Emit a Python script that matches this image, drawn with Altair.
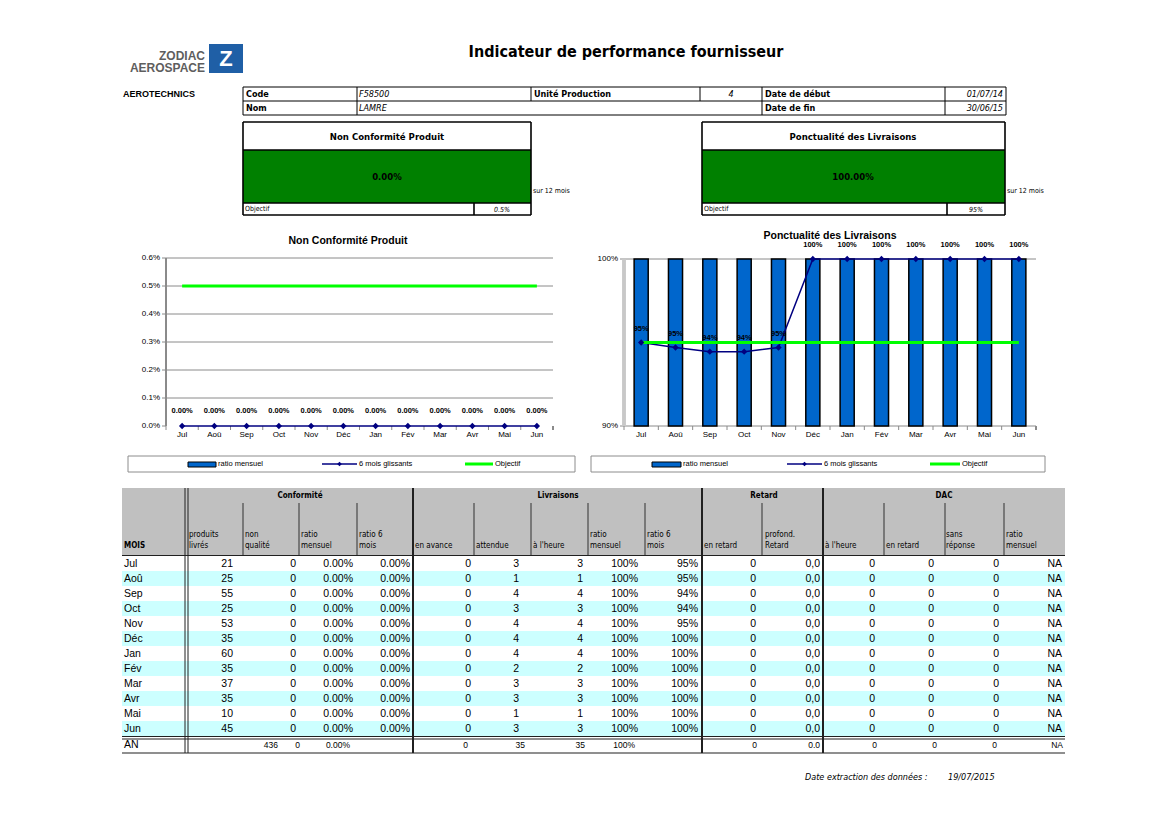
import altair as alt
import pandas as pd

# ---------------- data ----------------
months = ["Jul", "Aoû", "Sep", "Oct", "Nov", "Déc", "Jan", "Fév", "Mar", "Avr", "Mai", "Jun"]
produits_livres = [21, 25, 55, 25, 53, 35, 60, 35, 37, 35, 10, 45]
non_qualite = [0, 0, 0, 0, 0, 0, 0, 0, 0, 0, 0, 0]
nc_ratio_mensuel = [0.0, 0.0, 0.0, 0.0, 0.0, 0.0, 0.0, 0.0, 0.0, 0.0, 0.0, 0.0]
nc_ratio_6mois = [0.0, 0.0, 0.0, 0.0, 0.0, 0.0, 0.0, 0.0, 0.0, 0.0, 0.0, 0.0]
en_avance = [0, 0, 0, 0, 0, 0, 0, 0, 0, 0, 0, 0]
attendue = [3, 1, 4, 3, 4, 4, 4, 2, 3, 3, 1, 3]
a_l_heure = [3, 1, 4, 3, 4, 4, 4, 2, 3, 3, 1, 3]
liv_ratio_mensuel = [1.0, 1.0, 1.0, 1.0, 1.0, 1.0, 1.0, 1.0, 1.0, 1.0, 1.0, 1.0]
liv_ratio_6mois = [0.950, 0.947, 0.9445, 0.9445, 0.947, 1.0, 1.0, 1.0, 1.0, 1.0, 1.0, 1.0]
en_retard = [0, 0, 0, 0, 0, 0, 0, 0, 0, 0, 0, 0]
profond_retard = [0.0, 0.0, 0.0, 0.0, 0.0, 0.0, 0.0, 0.0, 0.0, 0.0, 0.0, 0.0]
dac_a_l_heure = [0, 0, 0, 0, 0, 0, 0, 0, 0, 0, 0, 0]
dac_en_retard = [0, 0, 0, 0, 0, 0, 0, 0, 0, 0, 0, 0]
dac_sans_reponse = [0, 0, 0, 0, 0, 0, 0, 0, 0, 0, 0, 0]
dac_ratio = ["NA", "NA", "NA", "NA", "NA", "NA", "NA", "NA", "NA", "NA", "NA", "NA"]
objectif_nc = 0.005
objectif_liv = 0.95
nc_ticks = [0.0, 0.001, 0.002, 0.003, 0.004, 0.005, 0.006]
liv_ticks = [0.90, 1.00]

titre = "Indicateur de performance fournisseur"
fournisseur = "AEROTECHNICS"
code_fournisseur = "F58500"
nom = "LAMRE"
unite_production = "4"
date_debut = "01/07/14"
date_fin = "30/06/15"
date_extraction = "19/07/2015"

# ---------------- layout helpers ----------------
W, H = 1153, 810
ARIAL = "Liberation Sans, Arial, sans-serif"
CAL = "Liberation Sans Narrow, DejaVu Sans Condensed, Liberation Sans, sans-serif"


def PX(v):
    return v - 8


XS = alt.Scale(domain=[8, 8 + W], range=[0, W], nice=False, zero=False)
YS = alt.Scale(domain=[8, 8 + H], range=[0, H], nice=False, zero=False)


def L_rules(segs, color="black", width=1.0):
    df = pd.DataFrame(segs, columns=["x", "y", "x2", "y2"])
    return alt.Chart(df).mark_rule(color=color, strokeWidth=width).encode(
        x=alt.X("x:Q", scale=XS, axis=None), y=alt.Y("y:Q", scale=YS, axis=None),
        x2="x2:Q", y2="y2:Q")


def L_rect(items, **mk):
    df = pd.DataFrame(items, columns=["x", "y", "x2", "y2"])
    return alt.Chart(df).mark_rect(**mk).encode(
        x=alt.X("x:Q", scale=XS, axis=None), y=alt.Y("y:Q", scale=YS, axis=None),
        x2="x2:Q", y2="y2:Q")


def L_text(items, **mk):
    df = pd.DataFrame(items, columns=["x", "y", "t"])
    base = dict(baseline="middle", font=ARIAL, fontSize=9, color="black", align="left")
    base.update(mk)
    return alt.Chart(df).mark_text(**base).encode(
        x=alt.X("x:Q", scale=XS, axis=None), y=alt.Y("y:Q", scale=YS, axis=None),
        text="t:N")


bg = []
layout = []

# ----- header -----
layout.append(L_text([(626, 52, titre)], align="center", font=CAL, fontSize=16, fontWeight="bold"))
layout.append(L_text([(205, 55.5, "ZODIAC"), (205, 68, "AEROSPACE")], align="right",
                     font=ARIAL, fontSize=12, fontWeight="bold", color="#5E5E5E"))
layout.append(L_rect([(209, 44, 243, 73)], color="#1F5FA6"))
layout.append(L_text([(226, 59, "Z")], align="center", font=ARIAL, fontSize=22,
                     fontWeight="bold", color="white"))
layout.append(L_text([(123, 94, fournisseur)], fontWeight="bold", fontSize=9))

# info table
layout.append(L_rules([
    (243, 87, 1006, 87), (243, 101, 1006, 101), (243, 115, 1006, 115),
    (243, 87, 243, 115), (1006, 87, 1006, 115),
    (357, 87, 357, 115), (531, 87, 531, 101), (700, 87, 700, 101),
    (762, 87, 762, 115), (945, 87, 945, 115)], color="black", width=1))
layout.append(L_text([(246, 94, "Code"), (534, 94, "Unité Production"), (765, 94, "Date de début"),
                      (246, 108, "Nom"), (765, 108, "Date de fin")],
                     font=CAL, fontSize=9, fontWeight="bold"))
layout.append(L_text([(359, 94, code_fournisseur), (359, 108, nom)],
                     font=CAL, fontSize=9, fontStyle="italic"))
layout.append(L_text([(731, 94, unite_production)], align="center",
                     font=CAL, fontSize=9, fontStyle="italic"))
layout.append(L_text([(1003, 94, date_debut), (1003, 108, date_fin)], align="right",
                     font=CAL, fontSize=9, fontStyle="italic"))

# KPI boxes
nc_12 = sum(non_qualite) / sum(produits_livres)
liv_12 = sum(a_l_heure) / sum(attendue)
bg.append(L_rect([(243, 150, 531, 203), (702, 150, 1005, 203)], color="#008000"))
layout.append(L_rules([
    (243, 122, 531, 122), (243, 150, 531, 150), (243, 203, 531, 203), (243, 215, 531, 215),
    (243, 122, 243, 215), (531, 122, 531, 215), (474, 203, 474, 215),
    (702, 122, 1005, 122), (702, 150, 1005, 150), (702, 203, 1005, 203), (702, 215, 1005, 215),
    (702, 122, 702, 215), (1005, 122, 1005, 215), (947, 203, 947, 215)],
    color="black", width=1.6))
layout.append(L_text([(387, 137, "Non Conformité Produit"), (853, 137, "Ponctualité des Livraisons"),
                      (387, 177, f"{nc_12:.2%}"), (853, 177, f"{liv_12:.2%}")],
                     align="center", font=CAL, fontSize=9.5, fontWeight="bold"))
layout.append(L_text([(245, 209, "Objectif"), (704, 209, "Objectif"),
                      (533, 191, "sur 12 mois"), (1007, 191, "sur 12 mois")],
                     font=CAL, fontSize=7))
layout.append(L_text([(502, 210, f"{objectif_nc:.1%}"), (976, 210, f"{objectif_liv:.0%}")],
                     align="center", font=CAL, fontSize=7, fontStyle="italic"))

# chart titles
layout.append(L_text([(348, 241, "Non Conformité Produit"), (830, 236, "Ponctualité des Livraisons")],
                     align="center", font=ARIAL, fontSize=10.5, fontWeight="bold"))

# legends
layout.append(L_rules([
    (128, 456, 575, 456), (128, 472, 575, 472), (128, 456, 128, 472), (575, 456, 575, 472),
    (591, 456, 1045, 456), (591, 472, 1045, 472), (591, 456, 591, 472), (1045, 456, 1045, 472)],
    color="#8C8C8C", width=1))
layout.append(L_rect([(188, 462, 216, 467), (652, 462, 681, 467)],
                     color="#0066CC", stroke="black", strokeWidth=1))
layout.append(L_rules([(322, 464, 357, 464), (787, 464, 822, 464)], color="#000080", width=1.5))
layout.append(alt.Chart(pd.DataFrame({"x": [339.5, 804.5], "y": [464, 464]})).mark_point(
    shape="diamond", filled=True, size=22, color="#000080", opacity=1).encode(
    x=alt.X("x:Q", scale=XS, axis=None), y=alt.Y("y:Q", scale=YS, axis=None)))
layout.append(L_rules([(465, 464, 493, 464), (930, 464, 960, 464)], color="#00FF00", width=3))
layout.append(L_text([(218, 464, "ratio mensuel"), (359, 464, "6 mois glissants"), (495, 464, "Objectif"),
                      (683, 464, "ratio mensuel"), (824, 464, "6 mois glissants"), (962, 464, "Objectif")],
                     font=ARIAL, fontSize=7.5))

# ----- table frame -----
bg.append(L_rect([(122, 488, 1065, 555)], color="#C0C0C0"))
layout.append(L_text([(300, 496, "Conformité"), (558, 496, "Livraisons"),
                      (764, 496, "Retard"), (944, 496, "DAC")],
                     align="center", font=CAL, fontSize=8, fontWeight="bold"))
layout.append(L_text([(124, 546, "MOIS")], font=CAL, fontSize=8, fontWeight="bold"))
hdr2 = [(189, "produits", "livrés"), (245, "non", "qualité"), (301, "ratio", "mensuel"),
        (359, "ratio 6", "mois"), (590, "ratio", "mensuel"), (647, "ratio 6", "mois"),
        (765, "profond.", "Retard"), (946, "sans", "réponse"), (1006, "ratio", "mensuel")]
hdr1 = [(415, "en avance"), (476, "attendue"), (533, "à l'heure"), (704, "en retard"),
        (825, "à l'heure"), (886, "en retard")]
items = []
for x, a, b in hdr2:
    items += [(x, 535, a), (x, 546, b)]
for x, a in hdr1:
    items.append((x, 546, a))
layout.append(L_text(items, font=CAL, fontSize=8))
layout.append(L_rules([(x, 503, x, 555) for x in [243, 299, 357, 474, 531, 588, 645, 762, 884, 945, 1004]],
                      color="#303030", width=1))

# ----- rows (months through a band scale) -----
YT = alt.Scale(type="band", domain=months, range=[PX(556), PX(736)], paddingInner=0, paddingOuter=0)
rows_df = pd.DataFrame({"mois": months, "shade": [i % 2 for i in range(len(months))]})
table_layers = [
    alt.Chart(rows_df).transform_filter("datum.shade == 1").mark_rect(color="#CCFFFF").encode(
        y=alt.Y("mois:N", scale=YT, axis=None), x=alt.value(PX(122)), x2=alt.value(PX(1065)))
]
cols = [
    (233, [str(v) for v in produits_livres]),
    (296, [str(v) for v in non_qualite]),
    (353, [f"{v:.2%}" for v in nc_ratio_mensuel]),
    (410, [f"{v:.2%}" for v in nc_ratio_6mois]),
    (471, [str(v) for v in en_avance]),
    (519, [str(v) for v in attendue]),
    (583, [str(v) for v in a_l_heure]),
    (638, [f"{v:.0%}" for v in liv_ratio_mensuel]),
    (698, [f"{v:.0%}" for v in liv_ratio_6mois]),
    (756, [str(v) for v in en_retard]),
    (820, [f"{v:.1f}".replace(".", ",") for v in profond_retard]),
    (875, [str(v) for v in dac_a_l_heure]),
    (934, [str(v) for v in dac_en_retard]),
    (999, [str(v) for v in dac_sans_reponse]),
    (1062, dac_ratio),
]
recs = []
for x, labels in cols:
    for m, t in zip(months, labels):
        recs.append({"mois": m, "x": x, "t": t})
cells = pd.DataFrame(recs)
table_layers.append(alt.Chart(cells).mark_text(align="right", baseline="middle", font=ARIAL,
                                               fontSize=10.5, color="black").encode(
    x=alt.X("x:Q", scale=XS, axis=None), y=alt.Y("mois:N", scale=YT, axis=None), text="t:N"))
table_layers.append(alt.Chart(pd.DataFrame({"mois": months})).mark_text(
    align="left", baseline="middle", font=ARIAL, fontSize=10.5, color="black").encode(
    x=alt.value(PX(124)), y=alt.Y("mois:N", scale=YT, axis=None), text="mois:N"))
table = alt.layer(*table_layers)

# totals row
tot_p = sum(produits_livres)
tot_nq = sum(non_qualite)
tot_att = sum(attendue)
tot_h = sum(a_l_heure)
totals = [(278, str(tot_p)), (300, str(tot_nq)), (350, f"{tot_nq / tot_p:.2%}"), (468, str(sum(en_avance))),
          (525, str(tot_att)), (585, str(tot_h)), (635, f"{tot_h / tot_att:.0%}"),
          (757, str(sum(en_retard))), (820, f"{sum(profond_retard):.1f}"), (877, str(sum(dac_a_l_heure))),
          (937, str(sum(dac_en_retard))), (997, str(sum(dac_sans_reponse))), (1063, "NA")]
layout.append(L_text([(x, 745, t) for x, t in totals], align="right", font=ARIAL, fontSize=8.5))
layout.append(L_text([(124, 745, "AN")], font=ARIAL, fontSize=10.5))

# table lines
layout.append(L_rules([(122, 555.5, 1065, 555.5), (122, 736.5, 1065, 736.5), (122, 739, 1065, 739),
                       (122, 753, 1065, 753)], color="#202020", width=1.2))
layout.append(L_rules([(185, 488, 185, 753), (188, 488, 188, 753)], color="#202020", width=1))
layout.append(L_rules([(x, 488, x, 753) for x in [413, 702, 823]], color="#202020", width=2))

layout.append(L_text([(805, 777, "Date extraction des données :"), (948, 777, date_extraction)],
                     font=CAL, fontSize=9, fontStyle="italic"))

bg_chart = alt.layer(*bg)
layout_chart = alt.layer(*layout)

# ---------------- left chart: Non Conformité Produit ----------------
idx = list(range(len(months)))
nc_df = pd.DataFrame({"mois": months, "idx": idx, "ratio": nc_ratio_mensuel,
                      "glissant": nc_ratio_6mois, "obj": [objectif_nc] * len(months)})
XL = alt.Scale(type="point", domain=months, range=[PX(166), PX(553)], padding=0.5)
YL = alt.Scale(domain=[0, 0.006], range=[PX(426), PX(258)], nice=False, zero=False)
stepL = (553 - 166) / 12
ncticks_df = pd.DataFrame({"v": nc_ticks})
xL = alt.X("mois:N", scale=XL, axis=None)

left = alt.layer(
    alt.Chart(ncticks_df).transform_filter("datum.v > 0").mark_rule(color="#8A8A8A", strokeWidth=1).encode(
        y=alt.Y("v:Q", scale=YL, axis=None), x=alt.value(PX(166)), x2=alt.value(PX(553))),
    alt.Chart(ncticks_df).mark_rule(color="#8A8A8A", strokeWidth=1).encode(
        y=alt.Y("v:Q", scale=YL, axis=None), x=alt.value(PX(162)), x2=alt.value(PX(166))),
    alt.Chart(ncticks_df).mark_text(align="right", baseline="middle", font=ARIAL, fontSize=8).encode(
        y=alt.Y("v:Q", scale=YL, axis=None), x=alt.value(PX(160)), text=alt.Text("v:Q", format=".1%")),
    alt.Chart(nc_df).mark_rule(color="#8A8A8A", strokeWidth=1, xOffset=-stepL / 2).encode(
        x=xL, y=alt.value(PX(426)), y2=alt.value(PX(430))),
    alt.Chart(nc_df).mark_text(baseline="middle", font=ARIAL, fontSize=8).encode(
        x=xL, y=alt.value(PX(435)), text="mois:N"),
    alt.Chart(nc_df).mark_bar(color="#0066CC", width=14).encode(
        x=xL, y=alt.Y("ratio:Q", scale=YL, axis=None), y2=alt.datum(0)),
    alt.Chart(nc_df).mark_line(color="#00FF00", strokeWidth=3).encode(
        x=xL, y=alt.Y("obj:Q", scale=YL, axis=None), order="idx:Q"),
    alt.Chart(nc_df).mark_line(color="#000080", strokeWidth=1.5).encode(
        x=xL, y=alt.Y("glissant:Q", scale=YL, axis=None), order="idx:Q"),
    alt.Chart(nc_df).mark_point(shape="diamond", filled=True, size=40, color="#000080", opacity=1).encode(
        x=xL, y=alt.Y("glissant:Q", scale=YL, axis=None)),
    alt.Chart(nc_df).mark_text(dy=-15, font=ARIAL, fontSize=7.5, fontWeight="bold").encode(
        x=xL, y=alt.Y("glissant:Q", scale=YL, axis=None), text=alt.Text("glissant:Q", format=".2%")),
)
left = alt.layer(left,
                 alt.Chart(nc_df).mark_rule(color="#8A8A8A", strokeWidth=1).encode(
                     x=alt.value(PX(166)), y=alt.value(PX(258)), y2=alt.value(PX(426))),
                 alt.Chart(nc_df).mark_rule(color="#8A8A8A", strokeWidth=1).encode(
                     x=alt.value(PX(553)), y=alt.value(PX(426)), y2=alt.value(PX(430))))

# ---------------- right chart: Ponctualité des Livraisons ----------------
liv_df = pd.DataFrame({"mois": months, "idx": idx, "ratio": liv_ratio_mensuel,
                       "glissant": liv_ratio_6mois, "obj": [objectif_liv] * len(months)})
XR = alt.Scale(type="band", domain=months, range=[PX(624), PX(1036)], paddingInner=0.59, paddingOuter=0.295)
YR = alt.Scale(domain=[0.9, 1.0], range=[PX(426), PX(259)], nice=False, zero=False)
stepR = (1036 - 624) / 12
livticks_df = pd.DataFrame({"v": liv_ticks})
xR = alt.X("mois:N", scale=XR, axis=None)

right = alt.layer(
    alt.Chart(livticks_df).mark_rule(color="#8A8A8A", strokeWidth=1).encode(
        y=alt.Y("v:Q", scale=YR, axis=None), x=alt.value(PX(624)), x2=alt.value(PX(1036))),
    alt.Chart(livticks_df).mark_rule(color="#8A8A8A", strokeWidth=1).encode(
        y=alt.Y("v:Q", scale=YR, axis=None), x=alt.value(PX(620)), x2=alt.value(PX(624))),
    alt.Chart(livticks_df).mark_text(align="right", baseline="middle", font=ARIAL, fontSize=8).encode(
        y=alt.Y("v:Q", scale=YR, axis=None), x=alt.value(PX(618)), text=alt.Text("v:Q", format=".0%")),
    alt.Chart(liv_df).mark_rule(color="#8A8A8A", strokeWidth=1, xOffset=-stepR / 2).encode(
        x=xR, y=alt.value(PX(426)), y2=alt.value(PX(430))),
    alt.Chart(liv_df).mark_rule(color="#C8C8C8", strokeWidth=2.5).encode(
        x=alt.value(PX(624)), y=alt.value(PX(259)), y2=alt.value(PX(426))),
    alt.Chart(liv_df).mark_rule(color="#8A8A8A", strokeWidth=1).encode(
        x=alt.value(PX(1036)), y=alt.value(PX(426)), y2=alt.value(PX(430))),
    alt.Chart(liv_df).mark_text(baseline="middle", font=ARIAL, fontSize=8).encode(
        x=xR, y=alt.value(PX(435)), text="mois:N"),
    alt.Chart(liv_df).mark_bar(color="#0066CC", stroke="black", strokeWidth=1.5).encode(
        x=xR, y=alt.Y("ratio:Q", scale=YR, axis=None), y2=alt.datum(0.9)),
    alt.Chart(liv_df).mark_line(color="#000080", strokeWidth=1.5).encode(
        x=xR, y=alt.Y("glissant:Q", scale=YR, axis=None), order="idx:Q"),
    alt.Chart(liv_df).mark_line(color="#00FF00", strokeWidth=3).encode(
        x=xR, y=alt.Y("obj:Q", scale=YR, axis=None), order="idx:Q"),
    alt.Chart(liv_df).mark_point(shape="diamond", filled=True, size=40, color="#000080", opacity=1).encode(
        x=xR, y=alt.Y("glissant:Q", scale=YR, axis=None)),
    alt.Chart(liv_df).mark_text(dy=-14, font=ARIAL, fontSize=7.5, fontWeight="bold").encode(
        x=xR, y=alt.Y("glissant:Q", scale=YR, axis=None), text=alt.Text("glissant:Q", format=".0%")),
)

chart = alt.layer(bg_chart, table, layout_chart, left, right).resolve_scale(
    x="independent", y="independent"
).properties(
    width=W, height=H, padding=0, autosize=alt.AutoSizeParams(type="none"), background="white"
).configure_view(strokeWidth=0)

chart.save("out.html", embed_options={"renderer": "svg", "actions": False})
